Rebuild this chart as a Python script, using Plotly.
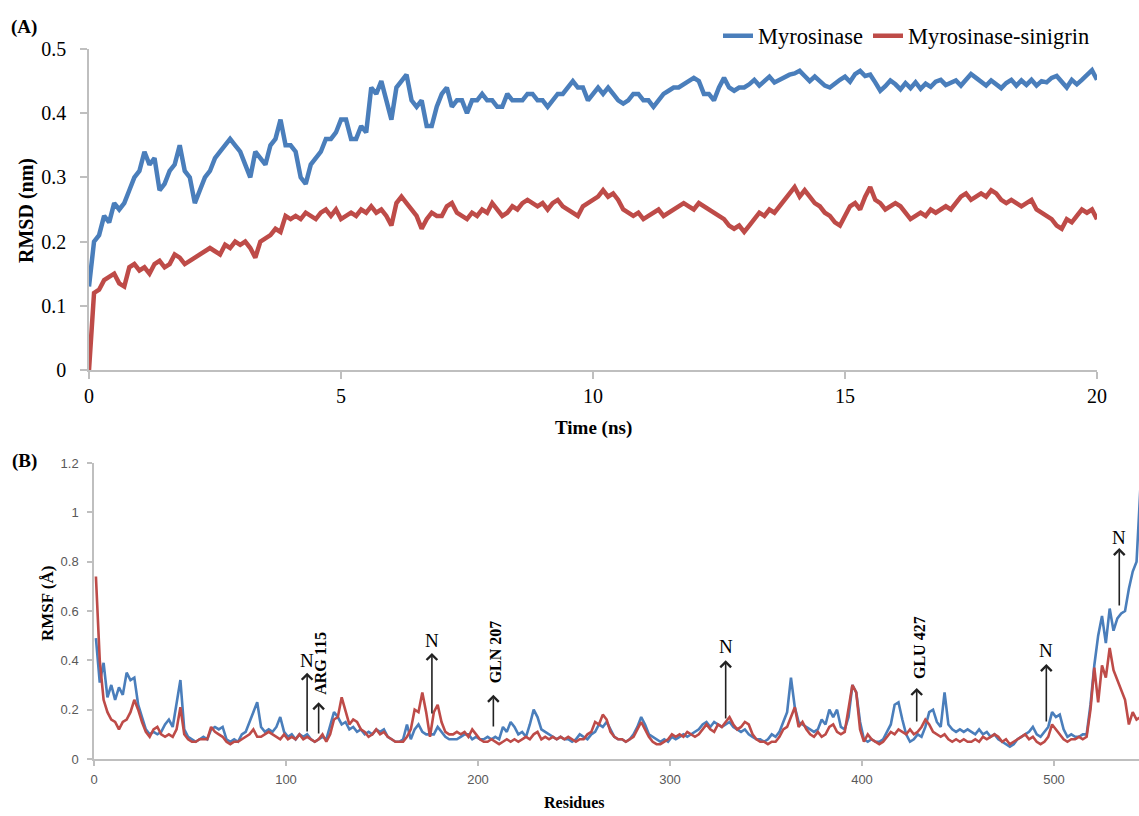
import plotly.graph_objects as go

W, H = 1139, 816
BLUE = "#4A7EBB"
RED = "#BE4B48"
AXIS = "#BFBFBF"

# ---------------- Panel A data: RMSD (nm) vs time (ns), sampled every 0.1 ns ----------------
time_ns = [round(i * 0.1, 1) for i in range(201)]

rmsd_myrosinase = [
    0.13, 0.20, 0.21, 0.24, 0.23, 0.26, 0.25, 0.26, 0.28, 0.30,
    0.31, 0.34, 0.32, 0.33, 0.28, 0.29, 0.31, 0.32, 0.35, 0.31,
    0.30, 0.26, 0.28, 0.30, 0.31, 0.33, 0.34, 0.35, 0.36, 0.35,
    0.34, 0.32, 0.30, 0.34, 0.33, 0.32, 0.35, 0.36, 0.39, 0.35,
    0.35, 0.34, 0.30, 0.29, 0.32, 0.33, 0.34, 0.36, 0.36, 0.37,
    0.39, 0.39, 0.36, 0.36, 0.38, 0.37, 0.44, 0.43, 0.45, 0.42,
    0.39, 0.44, 0.45, 0.46, 0.42, 0.41, 0.42, 0.38, 0.38, 0.41,
    0.43, 0.44, 0.41, 0.42, 0.42, 0.40, 0.42, 0.42, 0.43, 0.42,
    0.42, 0.41, 0.41, 0.43, 0.42, 0.42, 0.42, 0.43, 0.43, 0.42,
    0.42, 0.41, 0.42, 0.43, 0.43, 0.44, 0.45, 0.44, 0.44, 0.42,
    0.43, 0.44, 0.43, 0.44, 0.43, 0.42, 0.415, 0.42, 0.43, 0.43,
    0.42, 0.42, 0.41, 0.42, 0.43, 0.435, 0.44, 0.44, 0.445, 0.45,
    0.455, 0.45, 0.43, 0.43, 0.42, 0.44, 0.455, 0.44, 0.435, 0.44,
    0.44, 0.445, 0.452, 0.443, 0.45, 0.457, 0.448, 0.452, 0.455, 0.46,
    0.462, 0.466, 0.458, 0.45, 0.457, 0.449, 0.443, 0.44, 0.447, 0.452,
    0.457, 0.449, 0.461, 0.466, 0.458, 0.46, 0.448, 0.435, 0.442, 0.451,
    0.445, 0.437, 0.447, 0.439, 0.448, 0.438, 0.446, 0.441, 0.449, 0.452,
    0.444, 0.447, 0.451, 0.443, 0.452, 0.461, 0.455, 0.448, 0.443, 0.451,
    0.445, 0.439, 0.447, 0.452, 0.443, 0.451, 0.444, 0.452, 0.443, 0.45,
    0.448, 0.455, 0.458, 0.449, 0.44, 0.452, 0.445, 0.452, 0.46, 0.467,
    0.452,
]

rmsd_sinigrin = [
    0.00, 0.12, 0.125, 0.14, 0.145, 0.15, 0.135, 0.13, 0.16, 0.165,
    0.155, 0.16, 0.15, 0.165, 0.17, 0.16, 0.165, 0.18, 0.175, 0.165,
    0.17, 0.175, 0.18, 0.185, 0.19, 0.185, 0.18, 0.195, 0.19, 0.20,
    0.195, 0.20, 0.19, 0.175, 0.20, 0.205, 0.21, 0.22, 0.215, 0.24,
    0.235, 0.24, 0.235, 0.245, 0.24, 0.235, 0.245, 0.25, 0.24, 0.25,
    0.235, 0.24, 0.245, 0.24, 0.25, 0.245, 0.255, 0.245, 0.25, 0.24,
    0.225, 0.26, 0.27, 0.26, 0.25, 0.24, 0.22, 0.235, 0.245, 0.24,
    0.24, 0.255, 0.26, 0.245, 0.24, 0.235, 0.245, 0.24, 0.25, 0.245,
    0.26, 0.25, 0.24, 0.245, 0.255, 0.25, 0.26, 0.265, 0.26, 0.255,
    0.26, 0.25, 0.26, 0.265, 0.255, 0.25, 0.245, 0.24, 0.255, 0.26,
    0.265, 0.27, 0.28, 0.27, 0.275, 0.265, 0.25, 0.245, 0.24, 0.245,
    0.235, 0.24, 0.245, 0.25, 0.24, 0.245, 0.25, 0.255, 0.26, 0.255,
    0.25, 0.26, 0.255, 0.25, 0.245, 0.24, 0.235, 0.225, 0.22, 0.225,
    0.215, 0.225, 0.235, 0.245, 0.24, 0.25, 0.245, 0.255, 0.265, 0.275,
    0.285, 0.27, 0.28, 0.27, 0.26, 0.255, 0.245, 0.24, 0.23, 0.225,
    0.24, 0.255, 0.26, 0.25, 0.27, 0.285, 0.265, 0.26, 0.25, 0.255,
    0.26, 0.255, 0.245, 0.235, 0.24, 0.245, 0.24, 0.25, 0.245, 0.25,
    0.255, 0.25, 0.26, 0.27, 0.275, 0.265, 0.27, 0.275, 0.27, 0.28,
    0.275, 0.265, 0.26, 0.265, 0.26, 0.255, 0.26, 0.265, 0.25, 0.245,
    0.24, 0.235, 0.225, 0.22, 0.235, 0.23, 0.24, 0.25, 0.245, 0.25,
    0.235,
]

# ---------------- Panel B data: RMSF (Å) per residue (every 2nd residue) ----------------
residues = list(range(1, 546, 2))

rmsf_myrosinase = [
    0.49, 0.31, 0.39, 0.25, 0.30, 0.24, 0.29, 0.26, 0.35, 0.32,
    0.33, 0.22, 0.17, 0.12, 0.10, 0.11, 0.10, 0.11, 0.14, 0.16,
    0.13, 0.23, 0.32, 0.12, 0.09, 0.08, 0.07, 0.08, 0.09, 0.08,
    0.12, 0.13, 0.12, 0.13, 0.08, 0.07, 0.08, 0.07, 0.10, 0.11,
    0.15, 0.19, 0.23, 0.13, 0.11, 0.12, 0.11, 0.13, 0.17, 0.11,
    0.09, 0.10, 0.08, 0.10, 0.09, 0.10, 0.08, 0.07, 0.08, 0.09,
    0.08, 0.14, 0.19, 0.17, 0.14, 0.15, 0.12, 0.13, 0.11, 0.12,
    0.10, 0.11, 0.10, 0.12, 0.11, 0.12, 0.09, 0.08, 0.07, 0.07,
    0.08, 0.14, 0.08, 0.12, 0.14, 0.11, 0.10, 0.10, 0.10, 0.13,
    0.11, 0.09, 0.08, 0.08, 0.08, 0.09, 0.10, 0.10, 0.08, 0.09,
    0.08, 0.08, 0.09, 0.08, 0.09, 0.08, 0.13, 0.11, 0.15, 0.13,
    0.10, 0.11, 0.09, 0.14, 0.20, 0.17, 0.12, 0.11, 0.10, 0.09,
    0.08, 0.09, 0.08, 0.08, 0.07, 0.08, 0.10, 0.09, 0.08, 0.10,
    0.11, 0.14, 0.13, 0.15, 0.12, 0.09, 0.08, 0.08, 0.07, 0.08,
    0.10, 0.13, 0.17, 0.14, 0.10, 0.09, 0.08, 0.07, 0.08, 0.07,
    0.09, 0.08, 0.09, 0.10, 0.09, 0.10, 0.11, 0.12, 0.14, 0.15,
    0.13, 0.15, 0.14, 0.13, 0.14, 0.15, 0.13, 0.12, 0.11, 0.12,
    0.10, 0.09, 0.08, 0.08, 0.07, 0.08, 0.10, 0.09, 0.11, 0.15,
    0.19, 0.33, 0.21, 0.15, 0.14, 0.13, 0.12, 0.11, 0.12, 0.16,
    0.14, 0.20, 0.17, 0.20, 0.13, 0.12, 0.17, 0.30, 0.27, 0.15,
    0.08, 0.07, 0.08, 0.07, 0.07, 0.08, 0.11, 0.14, 0.22, 0.23,
    0.16, 0.10, 0.07, 0.08, 0.10, 0.09, 0.13, 0.19, 0.20, 0.15,
    0.13, 0.27, 0.14, 0.12, 0.11, 0.12, 0.11, 0.12, 0.11, 0.10,
    0.12, 0.10, 0.11, 0.09, 0.10, 0.08, 0.07, 0.06, 0.05, 0.06,
    0.08, 0.09, 0.10, 0.11, 0.13, 0.10, 0.09, 0.11, 0.13, 0.19,
    0.17, 0.18, 0.12, 0.09, 0.10, 0.09, 0.09, 0.10, 0.10, 0.22,
    0.38, 0.50, 0.58, 0.47, 0.61, 0.52, 0.57, 0.59, 0.60, 0.69,
    0.76, 0.80, 1.10,
]

rmsf_sinigrin = [
    0.74, 0.40, 0.24, 0.19, 0.16, 0.15, 0.12, 0.15, 0.16, 0.19,
    0.24, 0.20, 0.15, 0.11, 0.09, 0.12, 0.13, 0.10, 0.09, 0.10,
    0.09, 0.12, 0.21, 0.10, 0.08, 0.07, 0.07, 0.08, 0.08, 0.08,
    0.13, 0.11, 0.10, 0.09, 0.07, 0.06, 0.07, 0.07, 0.08, 0.09,
    0.10, 0.12, 0.09, 0.09, 0.10, 0.11, 0.10, 0.09, 0.08, 0.10,
    0.08, 0.09, 0.08, 0.10, 0.08, 0.09, 0.08, 0.07, 0.08, 0.10,
    0.07, 0.10, 0.16, 0.17, 0.25, 0.20, 0.14, 0.16, 0.15, 0.12,
    0.11, 0.09, 0.10, 0.12, 0.10, 0.11, 0.09, 0.08, 0.07, 0.07,
    0.07, 0.09, 0.12, 0.20, 0.19, 0.27, 0.19, 0.09, 0.19, 0.22,
    0.15, 0.11, 0.10, 0.10, 0.11, 0.10, 0.11, 0.09, 0.12, 0.10,
    0.08, 0.07, 0.07, 0.08, 0.07, 0.06, 0.07, 0.08, 0.07, 0.08,
    0.07, 0.08, 0.09, 0.08, 0.10, 0.11, 0.08, 0.09, 0.08, 0.09,
    0.08, 0.09, 0.08, 0.09, 0.08, 0.07, 0.08, 0.08, 0.10, 0.11,
    0.15, 0.14, 0.18, 0.16, 0.11, 0.09, 0.08, 0.08, 0.07, 0.08,
    0.09, 0.12, 0.15, 0.12, 0.09, 0.07, 0.06, 0.06, 0.07, 0.08,
    0.10, 0.09, 0.10, 0.09, 0.11, 0.10, 0.09, 0.10, 0.12, 0.14,
    0.12, 0.11, 0.14, 0.13, 0.15, 0.17, 0.14, 0.12, 0.13, 0.15,
    0.14, 0.10, 0.08, 0.07, 0.07, 0.06, 0.07, 0.07, 0.09, 0.12,
    0.13, 0.17, 0.21, 0.13, 0.15, 0.12, 0.10, 0.09, 0.11, 0.09,
    0.10, 0.13, 0.14, 0.11, 0.10, 0.11, 0.20, 0.30, 0.27, 0.12,
    0.07, 0.10, 0.08, 0.07, 0.06, 0.07, 0.09, 0.11, 0.10, 0.12,
    0.11, 0.10, 0.12, 0.10, 0.11, 0.13, 0.16, 0.14, 0.11, 0.10,
    0.09, 0.10, 0.08, 0.07, 0.08, 0.07, 0.08, 0.07, 0.07, 0.08,
    0.07, 0.09, 0.08, 0.09, 0.10, 0.09, 0.07, 0.08, 0.06, 0.07,
    0.08, 0.09, 0.10, 0.08, 0.09, 0.07, 0.06, 0.07, 0.09, 0.14,
    0.12, 0.10, 0.08, 0.07, 0.08, 0.08, 0.09, 0.08, 0.09, 0.20,
    0.37, 0.23, 0.38, 0.33, 0.45, 0.36, 0.32, 0.28, 0.24, 0.14,
    0.19, 0.16, 0.17,
]

# Annotated residues: (label, arrow x, arrow tail y, arrow head y, label y, rotated?)
marks = [
    ("N",       111, 0.105, 0.35, 0.40, False),
    ("ARG 115", 117, 0.097, 0.23, 0.39, True),
    ("N",       176, 0.178, 0.43, 0.48, False),
    ("GLN 207", 208, 0.126, 0.26, 0.435, True),
    ("N",       329, 0.158, 0.40, 0.455, False),
    ("GLU 427", 428.5, 0.146, 0.288, 0.45, True),
    ("N",       496, 0.146, 0.385, 0.44, False),
    ("N",       534, 0.616, 0.855, 0.90, False),
]

SERIF = "Liberation Serif"
yticks_a = [0, 0.1, 0.2, 0.3, 0.4, 0.5]
yticks_b = [0, 0.2, 0.4, 0.6, 0.8, 1.0, 1.2]


def fx(p):
    return p / W


def fy(p):
    return 1 - p / H


fig = go.Figure()
fig.add_trace(go.Scatter(x=time_ns, y=rmsd_myrosinase, mode="lines", name="Myrosinase",
                         line=dict(color=BLUE, width=4.5), xaxis="x", yaxis="y"))
fig.add_trace(go.Scatter(x=time_ns, y=rmsd_sinigrin, mode="lines", name="Myrosinase-sinigrin",
                         line=dict(color=RED, width=4.5), xaxis="x", yaxis="y"))
fig.add_trace(go.Scatter(x=residues, y=rmsf_myrosinase, mode="lines", showlegend=False,
                         line=dict(color=BLUE, width=2.6), xaxis="x2", yaxis="y2"))
fig.add_trace(go.Scatter(x=residues, y=rmsf_sinigrin, mode="lines", showlegend=False,
                         line=dict(color=RED, width=2.6), xaxis="x2", yaxis="y2"))

common = dict(showline=True, linecolor=AXIS, linewidth=1.5, ticks="outside", tickcolor=AXIS,
              tickwidth=1.5, showgrid=False, zeroline=False, automargin=False)


def ptext(text, x, y, size, angle=0, anchor="center"):
    return dict(text=text, x=fx(x), y=fy(y), xref="paper", yref="paper", showarrow=False,
                xanchor=anchor, yanchor="middle", textangle=angle,
                font=dict(family=SERIF, size=size, color="black"))


annotations = [
    ptext("<b>(A)</b>", 9, 27, 19, anchor="left"),
    ptext("<b>(B)</b>", 10, 461, 19, anchor="left"),
    ptext("<b>RMSD (nm)</b>", 27, 211, 20, angle=-90),
    ptext("<b>Time (ns)</b>", 593, 428, 19),
    ptext("<b>RMSF (Å)</b>", 47, 604, 17, angle=-90),
    ptext("<b>Residues</b>", 574, 802, 16),
]

for label, xr, y0, y1, ylab, rotated in marks:
    annotations.append(dict(text="", x=xr, y=y1, ax=xr, ay=y0, xref="x2", yref="y2",
                            axref="x2", ayref="y2", showarrow=True, arrowhead=4, arrowsize=1.3,
                            arrowwidth=1.6, arrowcolor="#222222", standoff=0))
    if rotated:
        annotations.append(dict(text="<b>%s</b>" % label, x=xr + 1.2, y=ylab, xref="x2", yref="y2",
                                showarrow=False, textangle=-90, xanchor="center", yanchor="middle",
                                font=dict(family=SERIF, size=16, color="black")))
    else:
        annotations.append(dict(text=label, x=xr, y=ylab, xref="x2", yref="y2", showarrow=False,
                                xanchor="center", yanchor="middle",
                                font=dict(family=SERIF, size=19, color="black")))

fig.update_layout(
    width=W, height=H,
    margin=dict(l=0, r=0, t=0, b=0, autoexpand=False),
    paper_bgcolor="white", plot_bgcolor="white",
    xaxis=dict(domain=[fx(89), fx(1097)], range=[0, 20], anchor="y", tickvals=[0, 5, 10, 15, 20],
               ticklen=7,
               tickfont=dict(family=SERIF, size=20, color="black"), **common),
    yaxis=dict(domain=[fy(370), fy(49)], range=[0, 0.5], anchor="x", tickvals=yticks_a,
               ticktext=["%g" % v for v in yticks_a], ticklen=7, ticklabelstandoff=10,
               tickfont=dict(family=SERIF, size=20, color="black"), **common),
    xaxis2=dict(domain=[fx(94), 1.0], range=[0, (W - 94) / 1.92], anchor="y2",
                tickvals=[0, 100, 200, 300, 400, 500], ticklen=5, ticklabelstandoff=3,
                tickfont=dict(family="Liberation Sans", size=13, color="#595959"), **common),
    yaxis2=dict(domain=[fy(759), fy(463)], range=[0, 1.2], anchor="x2",
                tickvals=yticks_b, ticktext=["%g" % v for v in yticks_b],
                ticklen=5, ticklabelstandoff=6,
                tickfont=dict(family="Liberation Sans", size=13, color="#595959"), **common),
    legend=dict(orientation="h", x=fx(718), y=fy(36), xanchor="left", yanchor="middle",
                font=dict(family=SERIF, size=22.5, color="black"), bgcolor="rgba(0,0,0,0)",
                itemwidth=30, tracegroupgap=0),
    annotations=annotations,
    showlegend=True,
)

fig.write_html("out.html", config={"displayModeBar": False},
               post_script="document.body.style.margin='0px';document.body.style.overflow='hidden';")
